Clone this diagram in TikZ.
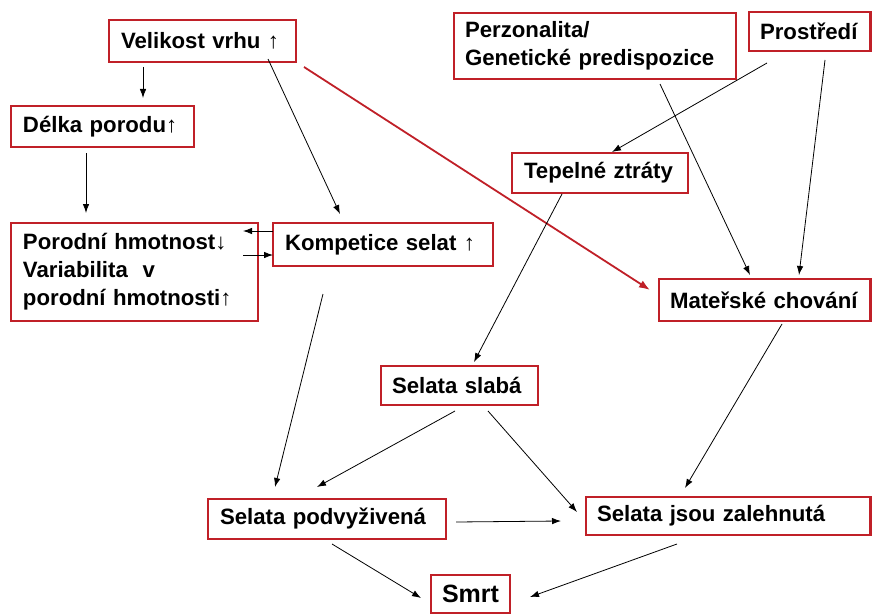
\documentclass[tikz,border=0pt]{standalone}
\usepackage{fontspec}
\setmainfont{Liberation Sans}
\usetikzlibrary{arrows.meta,calc}
\definecolor{bred}{RGB}{192,32,40}
\begin{document}
\begin{tikzpicture}[x=1pt,y=-1pt,
  bx/.style={draw=bred, line width=2.3pt, outer sep=0pt, inner xsep=12pt, inner ysep=0pt,
    align=left, font=\bfseries\fontsize{22.2}{28}\selectfont},
  arr/.style={line width=0.8pt, -{Latex[length=9pt,width=6.5pt]}},
  rarr/.style={draw=bred, line width=1.8pt, -{Latex[length=11pt,width=8pt]}}]
\fill[white] (0,0) rectangle (872,615);
\useasboundingbox (0,0) rectangle (872,615);
% boxes
\node[bx, text width=163, minimum height=42] (vel) at (202.5,41) {Velikost vrhu ↑};
\node[bx, text width=159, minimum height=41] (del) at (102.5,126.5) {Délka porodu↑};
\node[bx, text width=223, minimum height=98] (por) at (134.5,272) {Porodní hmotnost↓\\Variabilita\ \ v\\porodní hmotnosti↑};
\node[bx, text width=196, minimum height=43] (kom) at (383,244.5) {Kompetice selat ↑};
\node[bx, inner xsep=11pt, text width=260, minimum height=66] (per) at (595,46) {Perzonalita/\\Genetické predispozice};
\node[bx, inner xsep=11pt, text width=99.5, minimum height=39] (pro) at (809.75,31.5) {Prostředí};
\node[bx, inner xsep=12pt, text width=152, minimum height=40] (tep) at (600,173) {Tepelné ztráty};
\node[bx, inner xsep=11pt, text width=189.5, minimum height=42] (mat) at (764.75,300) {Mateřské chování};
\node[bx, inner xsep=11pt, text width=135, minimum height=39] (sla) at (459.5,385.5) {Selata slabá};
\node[bx, text width=214, minimum height=40] (pod) at (327,519) {Selata podvyživená};
\node[bx, inner xsep=11pt, text width=262.5, minimum height=38] (zal) at (728.25,516) {Selata jsou zalehnutá};
\node[bx, align=center, inner xsep=0pt, minimum width=79, minimum height=38,
  font=\bfseries\fontsize{25}{30}\selectfont] (smrt) at (470.5,594) {Smrt};
% connectors
\draw[arr] ($(vel.south west)+(34,5)$) -- ($(del.north west)+(132,-8)$);
\draw[arr] ($(del.south west)+(75,6)$) -- ($(por.north west)+(75,-10)$);
\draw[arr] ($(vel.south west)+(159,-3)$) -- ($(kom.north west)+(67,-9)$);
\draw[arr] ($(kom.north west)+(0,8)$) -- ($(por.north east)+(-15,8)$);
\draw[arr] ($(por.north east)+(-15,32)$) -- ($(kom.north west)+(0,32)$);
\draw[rarr] ($(vel.south east)+(8,5)$) -- ($(mat.north west)+(-9,11)$);
\draw[arr] ($(pro.south west)+(18,12)$) -- ($(tep.north west)+(100,-1)$);
\draw[arr] ($(per.south west)+(206,5)$) -- ($(mat.north west)+(91,-4)$);
\draw[arr] ($(pro.south west)+(76,9)$) -- ($(mat.north west)+(140,-4)$);
\draw[arr] ($(tep.south west)+(50,1)$) -- ($(sla.north west)+(93,-4)$);
\draw[arr] ($(kom.south west)+(50,28)$) -- ($(pod.north west)+(67,-12)$);
\draw[arr] ($(sla.south west)+(74,6)$) -- ($(pod.north west)+(109,-12)$);
\draw[arr] ($(sla.south west)+(107,6)$) -- ($(zal.north west)+(-9,15)$);
\draw[arr] ($(pod.north east)+(10,23)$) -- ($(zal.north west)+(-25,24)$);
\draw[arr] ($(mat.south west)+(123,3)$) -- ($(zal.north west)+(99,-9)$);
\draw[arr] ($(pod.south west)+(124,5)$) -- ($(smrt.north west)+(-10,23)$);
\draw[arr] ($(zal.south west)+(91,9)$) -- ($(smrt.north east)+(20,22)$);
\end{tikzpicture}
\end{document}
